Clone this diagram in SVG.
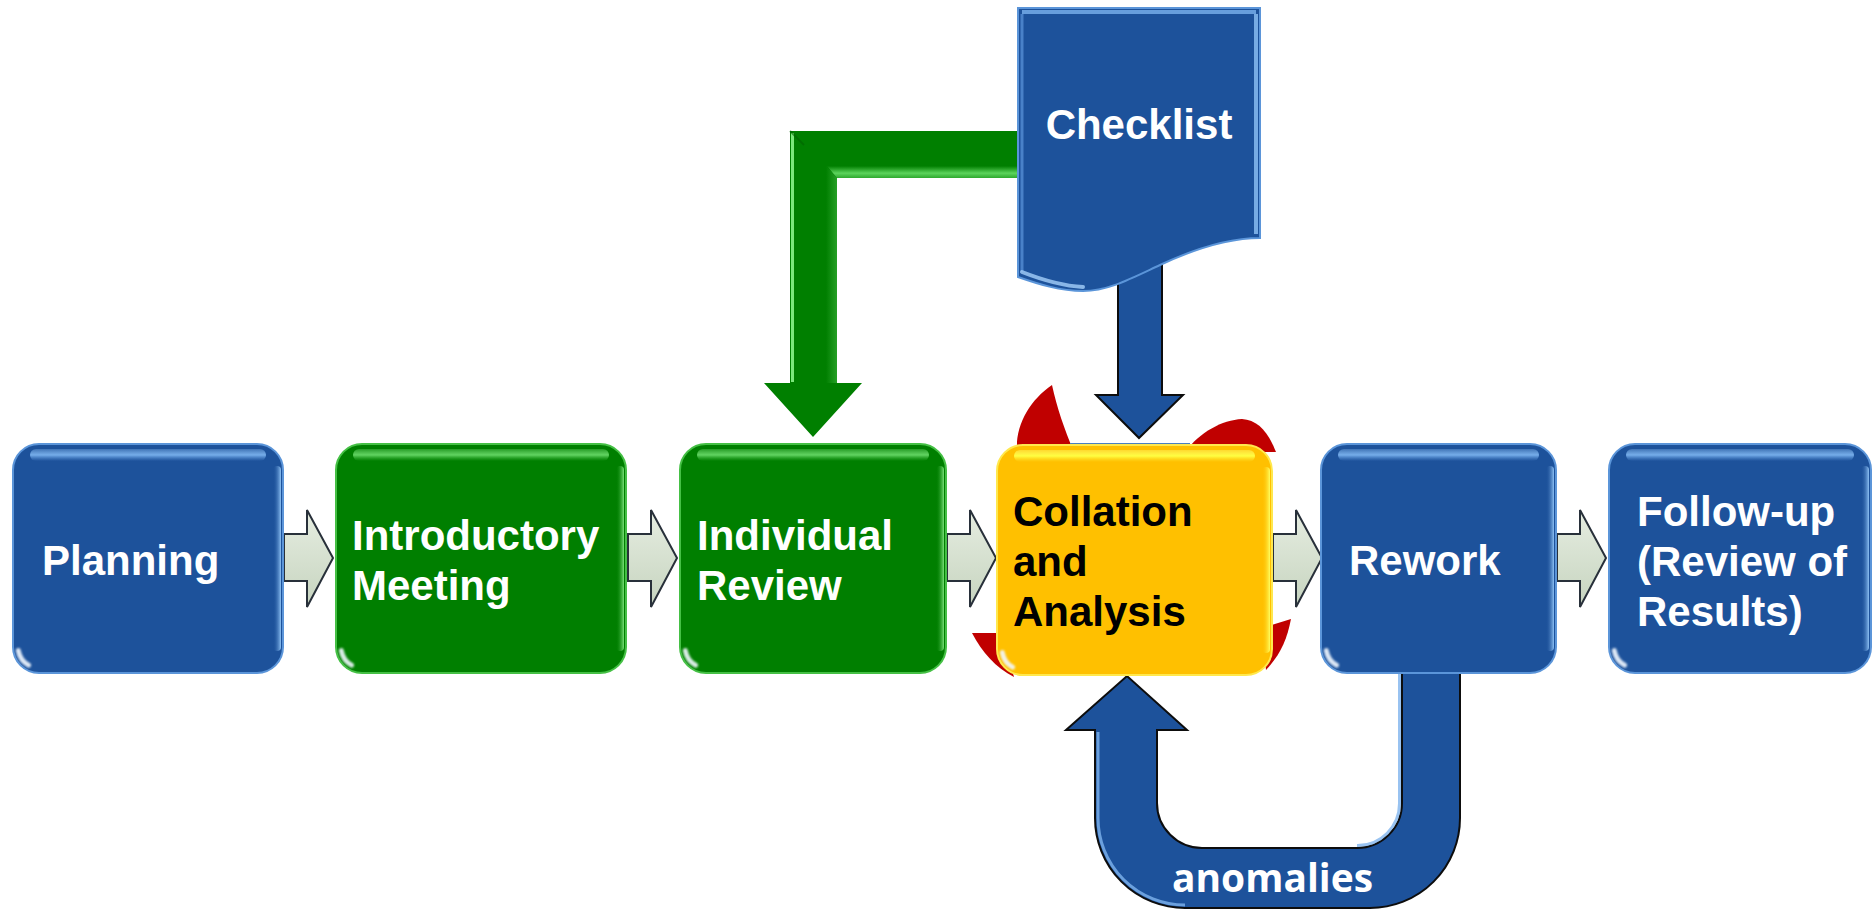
<svg xmlns="http://www.w3.org/2000/svg" width="1874" height="911" viewBox="0 0 1874 911">
  <style>
    .lbl { font-family: "Liberation Sans", Arial, sans-serif; font-weight: bold; font-size: 42px; fill: #ffffff; }
    .lbl.dark { fill: #000000; }
    .tag { font-family: "Open Sans", "Liberation Sans", sans-serif; font-weight: bold; font-size: 40px; fill: #ffffff; }
    .blue { fill: #1d529b; stroke: #5b95d9; stroke-width: 2; }
    .green { fill: #007f00; stroke: #45c045; stroke-width: 2; }
    .gold { fill: #ffc000; stroke: #ffe84d; stroke-width: 2; }
    .gloss-blue { fill: url(#glossBlue); }
    .gloss-green { fill: url(#glossGreen); }
    .gloss-gold { fill: url(#glossGold); }
    .rim-blue { fill: url(#rimBlue); }
    .rim-green { fill: url(#rimGreen); }
    .rim-gold { fill: url(#rimGold); }
    .glint { fill: none; stroke: #f2f8ff; stroke-width: 5; stroke-linecap: round; opacity: 0.9; filter: url(#soft); }
    .flow { fill: url(#flowFill); stroke: #28303a; stroke-width: 2; stroke-linejoin: miter; }
    .ring { fill: #c00000; }
    .pipe-blue { fill: #1d529b; stroke: #0d0d0d; stroke-width: 2; stroke-linejoin: miter; }
    .pipe-green { fill: #007f00; }
    .hl-blue { fill: none; stroke: #7fb4ee; stroke-width: 3; opacity: 0.8; }
  </style>
  <defs>
    <filter id="soft" x="-50%" y="-50%" width="200%" height="200%">
      <feGaussianBlur stdDeviation="1.3"/>
    </filter>
    <linearGradient id="glossBlue" x1="0" y1="0" x2="0" y2="1">
      <stop offset="0" stop-color="#8cc0f4" stop-opacity="0.3"/>
      <stop offset="0.5" stop-color="#7ab2ee" stop-opacity="0.95"/>
      <stop offset="1" stop-color="#5c96dc" stop-opacity="0"/>
    </linearGradient>
    <linearGradient id="glossGreen" x1="0" y1="0" x2="0" y2="1">
      <stop offset="0" stop-color="#7ae07a" stop-opacity="0.3"/>
      <stop offset="0.5" stop-color="#66d866" stop-opacity="0.95"/>
      <stop offset="1" stop-color="#3cb43c" stop-opacity="0"/>
    </linearGradient>
    <linearGradient id="glossGold" x1="0" y1="0" x2="0" y2="1">
      <stop offset="0" stop-color="#ffff70" stop-opacity="0.4"/>
      <stop offset="0.5" stop-color="#ffff40" stop-opacity="1"/>
      <stop offset="1" stop-color="#ffe030" stop-opacity="0"/>
    </linearGradient>
    <linearGradient id="rimBlue" x1="0" y1="0" x2="1" y2="0">
      <stop offset="0" stop-color="#1d529b" stop-opacity="0"/>
      <stop offset="1" stop-color="#8ec2f5"/>
    </linearGradient>
    <linearGradient id="rimGreen" x1="0" y1="0" x2="1" y2="0">
      <stop offset="0" stop-color="#007f00" stop-opacity="0"/>
      <stop offset="1" stop-color="#7ae07a"/>
    </linearGradient>
    <linearGradient id="rimGold" x1="0" y1="0" x2="1" y2="0">
      <stop offset="0" stop-color="#ffc000" stop-opacity="0"/>
      <stop offset="1" stop-color="#ffff60"/>
    </linearGradient>
    <linearGradient id="bandGreen" x1="0" y1="0" x2="0" y2="1">
      <stop offset="0" stop-color="#007f00"/>
      <stop offset="0.6" stop-color="#5cd45c"/>
      <stop offset="1" stop-color="#2ea82e"/>
    </linearGradient>
    <linearGradient id="sideGreen" x1="0" y1="0" x2="1" y2="0">
      <stop offset="0" stop-color="#007f00"/>
      <stop offset="1" stop-color="#2fa82f"/>
    </linearGradient>
    <linearGradient id="flowFill" x1="0" y1="0" x2="0" y2="1">
      <stop offset="0" stop-color="#e6ede1"/>
      <stop offset="1" stop-color="#c6d4bf"/>
    </linearGradient>
    <!-- block arrow between consecutive steps -->
    <path id="step-arrow" d="M0,24 H23 V0 L49,48 L23,97 V71 H0 Z"/>
  </defs>

  <!-- connectors -->
  <g id="connectors">
    <!-- checklist to individual review (elbow) -->
    <g id="edge-checklist-individual">
      <path class="pipe-green" d="M1030,131 H790 V383 H764 L813,437 L862,383 H837 V178 H1030 Z"/>
      <path d="M827,166 H1025 V178 H837 Z" fill="url(#bandGreen)"/>
      <path d="M826,166 L837,178 V383 H826 Z" fill="url(#sideGreen)" opacity="0.8"/>
      <path d="M792.5,382 V133" stroke="#7ce87c" stroke-width="3"/>
      <path d="M790,131 L804,145" stroke="#006400" stroke-width="2" opacity="0.6"/>
    </g>
    <!-- checklist to collation -->
    <path id="edge-checklist-collation" class="pipe-blue" d="M1118,250 V395 H1096 L1139,438 L1183,395 H1162 V250 Z"/>
    <!-- rework back to collation -->
    <g id="edge-rework-collation">
      <path class="pipe-blue" d="M1460,660 V818 A90,90 0 0 1 1370,908 H1185 A90,90 0 0 1 1095,818 V730 H1066 L1127,676 L1187,730 H1157 V803 A45,45 0 0 0 1202,848 H1357 A45,45 0 0 0 1402,803 V660 Z"/>
      <path class="hl-blue" d="M1098,732 V818 A87,87 0 0 0 1185,905" opacity="0.6"/>
      <path class="hl-blue" d="M1399.5,668 V803 A42,42 0 0 1 1357,845.5" opacity="0.45"/>
      <text class="tag" x="1172" y="892" textLength="201" lengthAdjust="spacingAndGlyphs">anomalies</text>
    </g>
    <!-- sequential steps -->
    <use href="#step-arrow" class="flow" x="284" y="510"/>
    <use href="#step-arrow" class="flow" x="628" y="510"/>
    <use href="#step-arrow" class="flow" x="947" y="510"/>
    <use href="#step-arrow" class="flow" x="1273" y="510"/>
    <use href="#step-arrow" class="flow" x="1557" y="510"/>
  </g>

  <!-- checklist document -->
  <g id="node-checklist">
    <path class="blue" d="M1018,8 H1260 V238 C1228,238 1192,250 1160,265 C1130,279 1108,291 1083,291 C1060,291 1038,284 1018,277 Z" stroke="#6aa3e3"/>
    <path d="M1022,12 H1256" stroke="#7ab2ee" stroke-width="4" opacity="0.8"/>
    <path d="M1256,14 V234" stroke="#8ec2f5" stroke-width="4" opacity="0.8"/>
    <path d="M1022,14 V272" stroke="#5c96dc" stroke-width="3" opacity="0.7"/>
    <path d="M1022,272 C1045,281 1065,286 1083,287" stroke="#9cc8f5" stroke-width="4" fill="none" opacity="0.85" stroke-linecap="round"/>
    <text class="lbl" x="1139" y="139" text-anchor="middle">Checklist</text>
  </g>

  <!-- step: planning -->
  <g id="node-planning">
    <rect class="blue" x="13" y="444" width="270" height="229" rx="26"/>
    <rect class="gloss-blue" x="30" y="449" width="236" height="12" rx="6"/>
    <rect class="rim-blue" x="273" y="466" width="8" height="185" rx="4"/>
    <path class="glint" d="M18.3,650.6 A21,21 0 0 0 28.5,665.2"/>
    <text class="lbl" x="42" y="575">Planning</text>
  </g>

  <!-- step: introductory meeting -->
  <g id="node-introductory">
    <rect class="green" x="336" y="444" width="290" height="229" rx="26"/>
    <rect class="gloss-green" x="353" y="449" width="256" height="12" rx="6"/>
    <rect class="rim-green" x="616" y="466" width="8" height="185" rx="4"/>
    <path class="glint" d="M341.3,650.6 A21,21 0 0 0 351.5,665.2"/>
    <text class="lbl" x="352" y="550">Introductory</text>
    <text class="lbl" x="352" y="600">Meeting</text>
  </g>

  <!-- step: individual review -->
  <g id="node-individual">
    <rect class="green" x="680" y="444" width="266" height="229" rx="26"/>
    <rect class="gloss-green" x="697" y="449" width="232" height="12" rx="6"/>
    <rect class="rim-green" x="936" y="466" width="8" height="185" rx="4"/>
    <path class="glint" d="M685.3,650.6 A21,21 0 0 0 695.5,665.2"/>
    <text class="lbl" x="697" y="550">Individual</text>
    <text class="lbl" x="697" y="600">Review</text>
  </g>

  <!-- step: collation and analysis, with the red cycle behind it -->
  <g id="node-collation">
    <path class="ring" d="M1017,452 C1015,425 1030,400 1052,385 C1057,408 1064,428 1074,452 Z"/>
    <path class="ring" d="M1185,452 C1200,432 1222,420 1242,419 C1258,420 1268,432 1276,452 Z"/>
    <path class="ring" d="M972,633 L1002,633 L1014,677 C996,668 982,652 972,633 Z"/>
    <path class="ring" d="M1262,628 L1291,619 C1287,640 1280,655 1266,670 Z"/>
    <path d="M1070,444 H1190" stroke="#4a7fc0" stroke-width="2"/>
    <rect class="gold" x="997" y="445" width="275" height="230" rx="26"/>
    <rect class="gloss-gold" x="1014" y="450" width="241" height="12" rx="6"/>
    <rect class="rim-gold" x="1262" y="467" width="8" height="186" rx="4"/>
    <path class="glint" d="M1002.3,652.6 A21,21 0 0 0 1012.5,667.2"/>
    <text class="lbl dark" x="1013" y="526">Collation</text>
    <text class="lbl dark" x="1013" y="576">and</text>
    <text class="lbl dark" x="1013" y="626">Analysis</text>
  </g>

  <!-- step: rework -->
  <g id="node-rework">
    <rect class="blue" x="1321" y="444" width="235" height="229" rx="26"/>
    <rect class="gloss-blue" x="1338" y="449" width="201" height="12" rx="6"/>
    <rect class="rim-blue" x="1546" y="466" width="8" height="185" rx="4"/>
    <path class="glint" d="M1326.3,650.6 A21,21 0 0 0 1336.5,665.2"/>
    <text class="lbl" x="1349" y="575">Rework</text>
  </g>

  <!-- step: follow-up -->
  <g id="node-followup">
    <rect class="blue" x="1609" y="444" width="262" height="229" rx="26"/>
    <rect class="gloss-blue" x="1626" y="449" width="228" height="12" rx="6"/>
    <rect class="rim-blue" x="1861" y="466" width="8" height="185" rx="4"/>
    <path class="glint" d="M1614.3,650.6 A21,21 0 0 0 1624.5,665.2"/>
    <text class="lbl" x="1637" y="526">Follow-up</text>
    <text class="lbl" x="1637" y="576">(Review of</text>
    <text class="lbl" x="1637" y="626">Results)</text>
  </g>
</svg>
